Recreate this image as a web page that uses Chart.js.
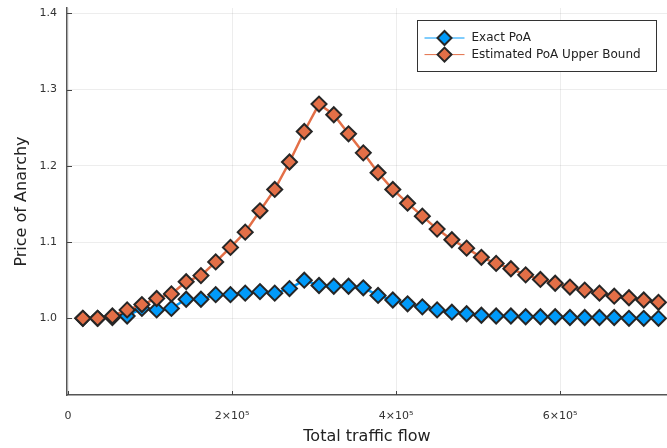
<!DOCTYPE html>
<html lang="en">
<head>
  <meta charset="UTF-8">
  <title>Price of Anarchy vs Total Traffic Flow</title>
  <script src="https://cdn.jsdelivr.net/npm/chart.js"></script>
  <style>
    body { margin: 0; background: #fff; }
    canvas { display: block; }
  </style>
</head>
<body>
  <canvas id="poaChart" width="667" height="448"></canvas>

  <script>
    // total traffic flow of each run
    const flows = [
      18000, 36000, 54000, 72000, 90000, 108000, 126000, 144000, 162000, 180000,
      198000, 216000, 234000, 252000, 270000, 288000, 306000, 324000, 342000, 360000,
      378000, 396000, 414000, 432000, 450000, 468000, 486000, 504000, 522000, 540000,
      558000, 576000, 594000, 612000, 630000, 648000, 666000, 684000, 702000, 720000
    ];
    const exactPoA = [
      1.000, 1.000, 1.001, 1.003, 1.013, 1.011, 1.013, 1.025, 1.025, 1.031,
      1.031, 1.033, 1.035, 1.033, 1.039, 1.050, 1.043, 1.042, 1.042, 1.040,
      1.030, 1.024, 1.019, 1.015, 1.011, 1.008, 1.006, 1.004, 1.003, 1.003,
      1.002, 1.002, 1.002, 1.001, 1.001, 1.001, 1.001, 1.000, 1.000, 1.000
    ];
    const upperBound = [
      1.000, 1.000, 1.003, 1.011, 1.018, 1.026, 1.032, 1.048, 1.056, 1.074,
      1.093, 1.113, 1.141, 1.169, 1.205, 1.245, 1.281, 1.267, 1.242, 1.217,
      1.191, 1.169, 1.151, 1.134, 1.117, 1.103, 1.092, 1.080, 1.072, 1.065,
      1.057, 1.051, 1.046, 1.041, 1.037, 1.033, 1.029, 1.027, 1.024, 1.021
    ];
    const xTicks = [0, 200000, 400000, 600000];
    const xTickLabels = ['0', '2×10⁵', '4×10⁵', '6×10⁵'];
    const yTicks = [1.0, 1.1, 1.2, 1.3, 1.4];
    const yTickLabels = ['1.0', '1.1', '1.2', '1.3', '1.4'];

    const BLUE = '#009AFA';
    const ORANGE = '#E36F47';
    const EDGE = '#262626';
    const FONT = "'DejaVu Sans', sans-serif";

    function series(label, values, color, order) {
      return {
        label: label,
        data: flows.map((x, i) => ({ x: x, y: values[i] })),
        borderColor: color,
        backgroundColor: color,
        borderWidth: 2.5,
        pointStyle: 'rectRot',
        pointRadius: 7.5,
        pointBackgroundColor: color,
        pointBorderColor: EDGE,
        pointBorderWidth: 2,
        tension: 0,
        order: order,
        clip: false
      };
    }

    // short tick marks pointing into the plot
    const innerTicks = {
      id: 'innerTicks',
      beforeDatasetsDraw(chart) {
        const { ctx, chartArea, scales } = chart;
        ctx.save();
        ctx.strokeStyle = '#444';
        ctx.lineWidth = 1;
        ctx.beginPath();
        xTicks.forEach(v => {
          const px = Math.round(scales.x.getPixelForValue(v)) + 0.5;
          ctx.moveTo(px, chartArea.bottom);
          ctx.lineTo(px, chartArea.bottom - 4);
        });
        yTicks.forEach(v => {
          const py = Math.round(scales.y.getPixelForValue(v)) + 0.5;
          ctx.moveTo(chartArea.left, py);
          ctx.lineTo(chartArea.left + 5, py);
        });
        ctx.stroke();
        ctx.restore();
      }
    };

    // framed legend with a line + marker sample per series
    const boxLegend = {
      id: 'boxLegend',
      afterDraw(chart) {
        const { ctx, chartArea } = chart;
        const w = 239, h = 51;
        const x0 = 417.5;
        const y0 = Math.round(chartArea.top + 12) + 0.5;
        ctx.save();
        ctx.fillStyle = '#fff';
        ctx.fillRect(x0, y0, w, h);
        ctx.strokeStyle = '#333';
        ctx.lineWidth = 1;
        ctx.strokeRect(x0, y0, w, h);
        chart.data.datasets.forEach((ds, i) => {
          const cy = y0 + 17.5 + i * 16.6;
          ctx.strokeStyle = ds.borderColor;
          ctx.lineWidth = 1;
          ctx.beginPath();
          ctx.moveTo(x0 + 7, cy);
          ctx.lineTo(x0 + 47, cy);
          ctx.stroke();
          const cx = x0 + 27;
          const r = 7;
          ctx.beginPath();
          ctx.moveTo(cx - r, cy);
          ctx.lineTo(cx, cy - r);
          ctx.lineTo(cx + r, cy);
          ctx.lineTo(cx, cy + r);
          ctx.closePath();
          ctx.fillStyle = ds.pointBackgroundColor;
          ctx.fill();
          ctx.strokeStyle = EDGE;
          ctx.lineWidth = 2;
          ctx.stroke();
          ctx.fillStyle = '#222';
          ctx.font = '12px ' + FONT;
          ctx.textBaseline = 'middle';
          ctx.textAlign = 'left';
          ctx.fillText(ds.label, x0 + 54, cy);
        });
        ctx.restore();
      }
    };

    const ctx = document.getElementById('poaChart').getContext('2d');
    new Chart(ctx, {
      type: 'line',
      data: {
        datasets: [
          series('Exact PoA', exactPoA, BLUE, 1),
          series('Estimated PoA Upper Bound', upperBound, ORANGE, 0)
        ]
      },
      options: {
        responsive: false,
        animation: false,
        layout: { autoPadding: false, padding: { top: 8, right: 0, bottom: 0, left: 0 } },
        plugins: {
          legend: { display: false },
          tooltip: { enabled: false }
        },
        scales: {
          x: {
            type: 'linear',
            min: -1341,
            max: 730366,
            afterBuildTicks: s => { s.ticks = xTicks.map(v => ({ value: v })); },
            afterFit: s => { s.height = 53; s.paddingLeft = 0; s.paddingRight = 0; },
            grid: { color: 'rgba(0,0,0,0.07)', drawTicks: false },
            border: { display: true, color: '#555', width: 1.5 },
            ticks: {
              autoSkip: false,
              maxRotation: 0,
              padding: 15,
              color: '#333',
              font: { family: FONT, size: 11 },
              callback: (v, i) => xTickLabels[i]
            },
            title: {
              display: true,
              text: 'Total traffic flow',
              color: '#222',
              font: { family: FONT, size: 16 },
              padding: { top: 0, bottom: 2 }
            }
          },
          y: {
            type: 'linear',
            min: 0.8994,
            max: 1.407,
            afterBuildTicks: s => { s.ticks = yTicks.map(v => ({ value: v })); },
            afterFit: s => { s.width = 67; s.paddingTop = 0; s.paddingBottom = 0; },
            grid: { color: 'rgba(0,0,0,0.07)', drawTicks: false },
            border: { display: true, color: '#555', width: 1.5 },
            ticks: {
              padding: 10,
              color: '#333',
              font: { family: FONT, size: 11 },
              callback: (v, i) => yTickLabels[i]
            },
            title: {
              display: true,
              text: 'Price of Anarchy',
              color: '#222',
              font: { family: FONT, size: 16 },
              padding: { top: 12, bottom: 0 }
            }
          }
        }
      },
      plugins: [innerTicks, boxLegend]
    });
  </script>
</body>
</html>
